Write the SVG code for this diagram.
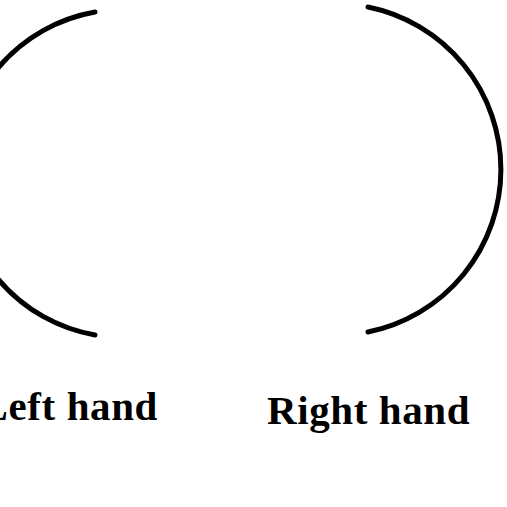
<svg xmlns="http://www.w3.org/2000/svg" width="507" height="507" viewBox="0 0 507 507">
<style>
.arc{fill:none;stroke:#000;stroke-width:5;stroke-linecap:round}
.lbl{font-family:"Liberation Serif","DejaVu Serif",serif;font-weight:bold;font-size:41px;letter-spacing:0.6px;fill:#000}
</style>
<rect width="507" height="507" fill="#fff"/>
<g id="left-hand">
<path class="arc" d="M95,12 A164,164 0 0 0 95,335"/>
<text class="lbl" x="158" y="420" text-anchor="end">Left hand</text>
</g>
<g id="right-hand">
<path class="arc" d="M368,7 A165.8,165.8 0 0 1 368,332"/>
<text class="lbl" x="267" y="424">Right hand</text>
</g>
<g id="connectors"></g>
</svg>
